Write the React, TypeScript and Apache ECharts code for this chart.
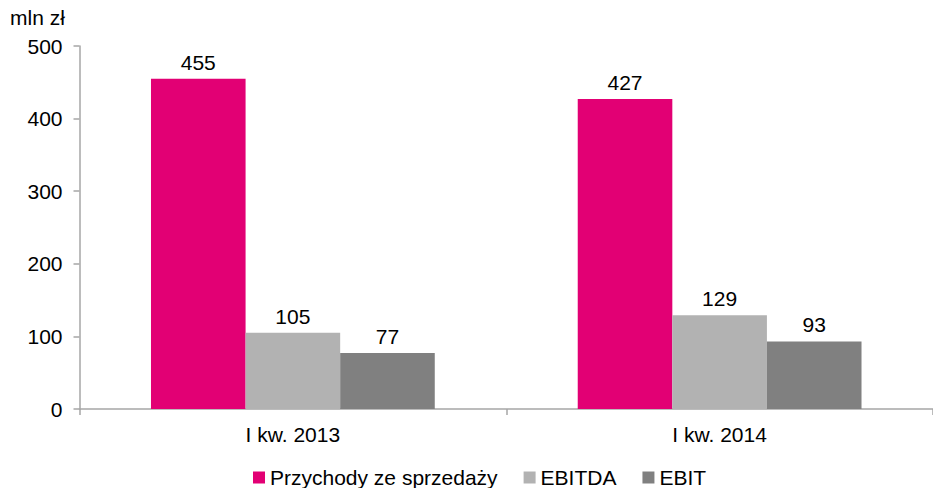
import React, { useEffect, useRef } from "react";
import * as echarts from "echarts";

const categories = ["I kw. 2013", "I kw. 2014"];
const seriesNames = ["Przychody ze sprzedaży", "EBITDA", "EBIT"];
const revenue = [455, 427];
const ebitda = [105, 129];
const ebit = [77, 93];
const colors = ["#E20074", "#B2B2B2", "#808080"];
const yTicks = { min: 0, max: 500, interval: 100 };
const unitLabel = "mln zł";

const FONT = "'Liberation Sans', Arial, sans-serif";
const FS = 21;

export default function App() {
  const ref = useRef<HTMLDivElement>(null);
  useEffect(() => {
    if (!ref.current) return;
    const chart = echarts.init(ref.current, undefined, { renderer: "svg" });
    const values = [revenue, ebitda, ebit];
    chart.setOption({
      animation: false,
      backgroundColor: "#ffffff",
      textStyle: { fontFamily: FONT },
      grid: { left: 79.5, top: 46, width: 861, height: 363, containLabel: false },
      graphic: [
        {
          type: "text",
          left: 10,
          top: 7,
          style: { text: unitLabel, font: `${FS}px ${FONT}`, fill: "#000" },
        },
      ],
      legend: {
        left: 248,
        top: 462,
        icon: "rect",
        itemWidth: 12,
        itemHeight: 12,
        itemGap: 26,
        textStyle: { fontSize: FS, color: "#000", fontFamily: FONT },
        data: seriesNames,
      },
      xAxis: {
        type: "category",
        data: categories,
        axisLine: { lineStyle: { color: "#A6A6A6", width: 1.5 } },
        axisTick: { show: true, length: 6, lineStyle: { color: "#A6A6A6", width: 1.5 } },
        axisLabel: { fontSize: FS, color: "#000", margin: 15, fontFamily: FONT },
      },
      yAxis: {
        type: "value",
        min: yTicks.min,
        max: yTicks.max,
        interval: yTicks.interval,
        splitLine: { show: false },
        axisLine: { show: true, lineStyle: { color: "#A6A6A6", width: 1.5 } },
        axisTick: { show: true, length: 6, lineStyle: { color: "#A6A6A6", width: 1.5 } },
        axisLabel: { fontSize: FS, color: "#000", margin: 17, fontFamily: FONT },
      },
      series: seriesNames.map((name, i) => ({
        name,
        type: "bar",
        data: values[i],
        barGap: "0%",
        barCategoryGap: "33.5%",
        itemStyle: { color: colors[i] },
        label: {
          show: true,
          position: "top",
          distance: 6,
          fontSize: FS,
          color: "#000",
          fontFamily: FONT,
        },
      })),
    });
    return () => chart.dispose();
  }, []);
  return (
    <div
      ref={ref}
      style={{ position: "absolute", left: 0, top: 0, width: 933, height: 488 }}
    />
  );
}
